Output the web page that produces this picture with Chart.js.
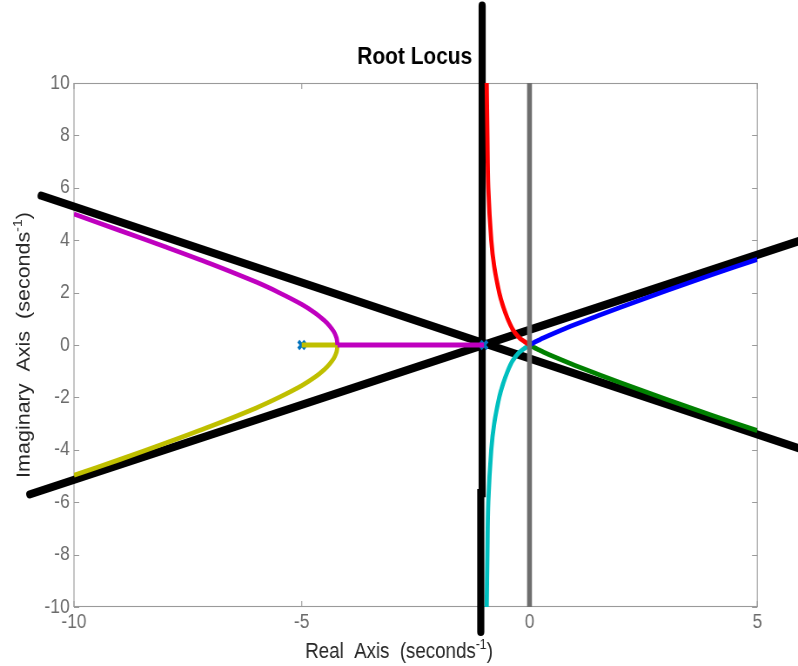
<!DOCTYPE html>
<html>
<head>
<meta charset="utf-8">
<script src="https://cdn.jsdelivr.net/npm/chart.js@4.4.1/dist/chart.umd.min.js"></script>
<style>
  html, body { margin: 0; padding: 0; background: #ffffff; overflow: hidden; }
  #wrap { width: 798px; height: 666px; overflow: hidden; }
  canvas { display: block; }
</style>
</head>
<body>
<div id="wrap">
  <!-- drawn on a wider bitmap and shown at 798 px wide (narrow figure look) -->
  <canvas id="locus" width="917" height="666" style="width:798px;height:666px"></canvas>
</div>
<script>
// Axis ticks
const xTickValues = [-10, -5, 0, 5];
const yTickValues = [-10, -8, -6, -4, -2, 0, 2, 4, 6, 8, 10];

// Root locus branches, [real, imaginary]
const branchRed = [[0, 0], [-0.13, 0.15], [-0.235, 0.3], [-0.37, 0.6], [-0.48, 1.0], [-0.585, 1.5],
  [-0.665, 2.0], [-0.775, 3.0], [-0.84, 4.0], [-0.905, 6.0], [-0.925, 8.0], [-0.94, 10.0]];
const branchCyan = [[0, 0], [-0.13, -0.15], [-0.235, -0.3], [-0.37, -0.6], [-0.48, -1.0], [-0.585, -1.5],
  [-0.665, -2.0], [-0.775, -3.0], [-0.84, -4.0], [-0.905, -6.0], [-0.925, -8.0], [-0.94, -10.0]];
const branchBlue = [[0, 0], [0.1, 0.095], [0.2, 0.18], [0.3, 0.265], [0.5, 0.42], [1.0, 0.78],
  [1.5, 1.113], [2.0, 1.44], [3.0, 2.07], [4.0, 2.68], [5.0, 3.27]];
const branchGreen = [[0, 0], [0.1, -0.095], [0.2, -0.18], [0.3, -0.265], [0.5, -0.42], [1.0, -0.78],
  [1.5, -1.113], [2.0, -1.44], [3.0, -2.07], [4.0, -2.68], [5.0, -3.27]];
// real-axis parts meet at the breakaway point
const magentaRealAxis = [[-1.0, 0], [-4.215, 0]];
const yellowRealAxis = [[-5.0, 0], [-4.215, 0]];
const branchMagenta = [[-4.215, 0], [-4.23, 0.22], [-4.25, 0.335], [-4.3, 0.52], [-4.4, 0.75],
  [-4.5, 0.93], [-4.7, 1.215], [-5.0, 1.55], [-5.5, 2.0], [-6.0, 2.4], [-7.0, 3.1], [-8.0, 3.75],
  [-9.0, 4.375], [-10.0, 5.0]];
const branchYellow = [[-4.215, 0], [-4.23, -0.22], [-4.25, -0.335], [-4.3, -0.52], [-4.4, -0.75],
  [-4.5, -0.93], [-4.7, -1.215], [-5.0, -1.55], [-5.5, -2.0], [-6.0, -2.4], [-7.0, -3.1], [-8.0, -3.75],
  [-9.0, -4.375], [-10.0, -4.97]];

// Open-loop poles
const poles = [[-5, 0], [-1, 0]];

// Imaginary axis marker and the asymptote lines
const imagAxisLine = [[0, -10], [0, 10]];
const asymptoteVertical = [[-1.04, 12.95], [-1.04, -5.65], [-1.07, -5.65], [-1.07, -10.95]];
const asymptoteFalling = [[-10.72, 5.7], [5.92, -3.95]];
const asymptoteRising = [[-10.97, -5.7], [5.92, 3.97]];

const toPts = arr => arr.map(p => ({ x: p[0], y: p[1] }));

function branch(data, color, tension) {
  return { data: toPts(data), showLine: true, borderColor: color, borderWidth: 4.8,
    pointRadius: 0, tension: tension, fill: false, borderCapStyle: 'butt', borderJoinStyle: 'round' };
}
function blackLine(data) {
  return { data: toPts(data), showLine: true, borderColor: '#000000', borderWidth: 8.2,
    pointRadius: 0, tension: 0, fill: false, clip: false, borderCapStyle: 'round', borderJoinStyle: 'miter' };
}

const FONT = "'Liberation Sans', Arial, Helvetica, sans-serif";

// Box, inward tick marks and text labels
const decorations = {
  id: 'decorations',
  beforeDatasetsDraw(chart) {
    const { ctx, chartArea: a, scales: { x, y } } = chart;
    ctx.save();
    ctx.strokeStyle = '#9a9a9a';
    ctx.lineWidth = 1.1;
    ctx.strokeRect(a.left, a.top + 0.5, a.right - a.left, a.bottom - a.top - 1);
    ctx.beginPath();
    const tl = 6;
    xTickValues.forEach(v => {
      const px = x.getPixelForValue(v);
      ctx.moveTo(px, a.bottom); ctx.lineTo(px, a.bottom - tl);
      ctx.moveTo(px, a.top); ctx.lineTo(px, a.top + tl);
    });
    yTickValues.forEach(v => {
      const py = Math.round(y.getPixelForValue(v)) + 0.5;
      ctx.moveTo(a.left, py); ctx.lineTo(a.left + tl, py);
      ctx.moveTo(a.right, py); ctx.lineTo(a.right - tl, py);
    });
    ctx.stroke();
    ctx.restore();
  },
  afterDraw(chart) {
    const { ctx, chartArea: a } = chart;
    ctx.save();
    ctx.fillStyle = '#000000';
    ctx.font = 'bold 24px ' + FONT;
    ctx.textAlign = 'center';
    ctx.textBaseline = 'alphabetic';
    ctx.fillText('Root Locus', (a.left + a.right) / 2 - 1, 64);

    const drawLabel = (main, sup, cx, cy, rotate) => {
      ctx.save();
      ctx.translate(cx, cy);
      if (rotate) ctx.rotate(-Math.PI / 2);
      ctx.fillStyle = '#262626';
      ctx.font = '21.5px ' + FONT;
      const w1 = ctx.measureText(main).width;
      ctx.font = '14px ' + FONT;
      const w2 = ctx.measureText(sup).width;
      ctx.font = '21.5px ' + FONT;
      const w3 = ctx.measureText(')').width;
      const sx = -(w1 + w2 + w3) / 2;
      ctx.textAlign = 'left';
      ctx.textBaseline = 'alphabetic';
      ctx.fillText(main, sx, 8);
      ctx.font = '14px ' + FONT;
      ctx.fillText(sup, sx + w1, -1);
      ctx.font = '21.5px ' + FONT;
      ctx.fillText(')', sx + w1 + w2, 8);
      ctx.restore();
    };
    drawLabel('Real  Axis  (seconds', '-1', 458.5, 650, false);
    drawLabel('Imaginary  Axis  (seconds', '-1', 25.5, (a.top + a.bottom) / 2, true);
    ctx.restore();
  }
};

const tickFont = { family: FONT, size: 20 };

new Chart(document.getElementById('locus'), {
  type: 'scatter',
  data: {
    datasets: [
      { data: toPts(imagAxisLine), showLine: true, borderColor: '#6e6e6e', borderWidth: 5.6,
        pointRadius: 0, fill: false },
      branch(branchRed, '#ff0000', 0.35),
      branch(branchCyan, '#00bfbf', 0.35),
      branch(branchBlue, '#0000ff', 0.35),
      branch(branchGreen, '#008000', 0.35),
      branch(magentaRealAxis, '#bf00bf', 0),
      branch(branchMagenta, '#bf00bf', 0.35),
      branch(yellowRealAxis, '#bfbf00', 0),
      branch(branchYellow, '#bfbf00', 0.35),
      { data: toPts(poles), showLine: false, pointStyle: 'crossRot', pointRadius: 5.5,
        pointBorderWidth: 3.6, pointBorderColor: '#0072bd', pointBackgroundColor: '#0072bd' },
      blackLine(asymptoteVertical),
      blackLine(asymptoteFalling),
      blackLine(asymptoteRising)
    ]
  },
  options: {
    responsive: false,
    animation: false,
    devicePixelRatio: 1,
    layout: { padding: { left: 0, right: 46.8, top: 83, bottom: 0 } },
    plugins: { legend: { display: false }, tooltip: { enabled: false }, title: { display: false } },
    scales: {
      x: {
        type: 'linear', min: -10, max: 5,
        afterBuildTicks: s => { s.ticks = xTickValues.map(v => ({ value: v })); },
        afterFit: s => { s.height = 59; },
        grid: { display: false, drawTicks: false },
        border: { display: false },
        ticks: { color: '#6b6b6b', font: tickFont, padding: 3, maxRotation: 0,
          callback: v => String(v) }
      },
      y: {
        type: 'linear', min: -10, max: 10,
        afterBuildTicks: s => { s.ticks = yTickValues.map(v => ({ value: v })); },
        afterFit: s => { s.width = 85; },
        grid: { display: false, drawTicks: false },
        border: { display: false },
        ticks: { color: '#6b6b6b', font: tickFont, padding: 5,
          callback: v => String(v) }
      }
    }
  },
  plugins: [decorations]
});
</script>
</body>
</html>
